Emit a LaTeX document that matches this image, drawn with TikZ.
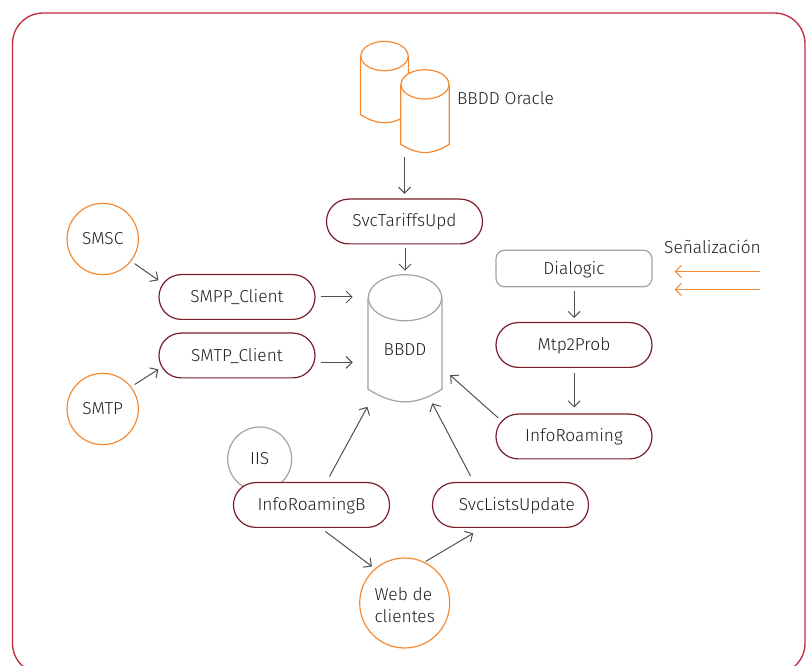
\documentclass[tikz,border=0pt]{standalone}
\usepackage{fontspec}
\setmainfont{Fira Sans Light}
\usetikzlibrary{arrows.meta}

\definecolor{framered}{HTML}{C22B3F}
\definecolor{pillred}{HTML}{7B1E2B}
\definecolor{dborange}{HTML}{F58A33}
\definecolor{softgrey}{HTML}{A3A3A3}
\definecolor{linegrey}{HTML}{505050}
\definecolor{textgrey}{HTML}{1F1F1F}

\tikzset{
	every node/.style={text=textgrey,font=\fontsize{13pt}{16.5pt}\selectfont,inner sep=0pt},
	capstext/.style={text height=9pt,text depth=0pt},
	pill/.style={shape=rectangle,capstext,draw=pillred,fill=white,line width=0.9pt,rounded corners=16.7pt,minimum width=117pt,minimum height=33.6pt},
	extcircle/.style={shape=circle,capstext,draw=dborange,line width=0.9pt,minimum size=53.5pt},
	dbbox/.style={shape=rectangle,minimum width=#1},
	link/.style={-{Straight Barb[length=4.5pt,width=9pt]},draw=linegrey,line width=0.75pt},
	siglink/.style={-{Straight Barb[length=4.5pt,width=9pt]},draw=dborange,line width=0.75pt}
}

% node name, colour, half width, cap height, foot height
\newcommand{\dbdraw}[5]{
	\draw[draw=#2,fill=white,line width=0.9pt] ([yshift=-#4]#1.north west) -- ([yshift=#5]#1.south west)
		to[out=-32,in=212,looseness=1.1] ([yshift=#5]#1.south east) -- ([yshift=-#4]#1.north east);
	\draw[draw=#2,fill=white,line width=0.9pt] ([yshift=-#4]#1.north) ellipse [x radius=#3,y radius=#4];
}

\begin{document}
\begin{tikzpicture}[x=0.75pt,y=-0.75pt]
	\useasboundingbox (0,0) rectangle (808,666);
	\begin{scope}
		\clip (0,0) rectangle (808,666);
		\draw[draw=framered,line width=1pt,rounded corners=23pt] (12.5,13) rectangle (805,674);
	\end{scope}

	\node[dbbox=35.5pt,minimum height=62pt] (oraclea) at (384.5,83) {};
	\node[dbbox=36pt,minimum height=63pt] (oracleb) at (425,112) {};
	\dbdraw{oraclea}{dborange}{17.75pt}{11pt}{7.5pt}
	\dbdraw{oracleb}{dborange}{18pt}{11pt}{7.5pt}
	\node (oracletext) at (505.5,98) {BBDD Oracle};

	\node[dbbox=55pt,minimum height=96pt] (bbdd) at (405,339) {};
	\dbdraw{bbdd}{softgrey}{27.5pt}{17.25pt}{10.5pt}
	\node[capstext] (bbddtext) at (405,350) {BBDD};

	\node[pill,text depth=2pt] (tariffs) at (404.5,221.5) {SvcTariffsUpd};
	\node[extcircle] (smsc) at (102.7,239) {SMSC};
	\node[extcircle] (smtp) at (102.7,409) {SMTP};
	\node[pill] (smppclient) at (237,297) {SMPP\_Client};
	\node[pill] (smtpclient) at (237,355.5) {SMTP\_Client};
	\node[shape=rectangle,capstext,draw=softgrey,line width=0.9pt,rounded corners=6.5pt,minimum width=117pt,minimum height=27.5pt] (dialogic) at (574,268.5) {Dialogic};
	\node[pill] (mtp) at (574,345) {Mtp2Prob};
	\node[pill,text depth=1pt] (inforoaming) at (574,436.5) {InfoRoaming};
	\node[shape=circle,capstext,draw=softgrey,line width=0.9pt,minimum size=48pt] (iis) at (259.7,459) {IIS};
	\node[pill] (inforoamingb) at (311.5,505) {InfoRoamingB};
	\node[pill] (svclists) at (510.5,505) {\hspace*{9.5pt}SvcListsUpdate};
	\node[extcircle,text height=,text depth=,minimum size=67.5pt,align=left] (web) at (404.7,603) {\rule{0pt}{12.5pt}Web de\\clientes};
	\node (signal) at (712.5,247) {Señalización};
	\coordinate (sigone) at (760,271.5);
	\coordinate (sigtwo) at (760,289.5);

	\path (tariffs.north |- oracleb.south) edge[link,shorten <=2pt,shorten >=3.5pt] (tariffs.north);
	\path (bbdd.north |- tariffs.south) edge[link,shorten <=3pt,shorten >=3pt] (bbdd.north);
	\path (smsc.-38) edge[link,shorten <=3pt] (smppclient.168);
	\path (smtp.38) edge[link,shorten <=3pt] (smtpclient.190);
	\path (smppclient.east) edge[link,shorten <=3.75pt,shorten >=11.5pt] (smppclient.east -| bbdd.west);
	\path (smtpclient.-5) edge[link,shorten <=3.75pt,shorten >=11.5pt] (smtpclient.-5 -| bbdd.west);
	\path (dialogic) edge[link,shorten <=2.5pt,shorten >=3pt] (mtp);
	\path (mtp) edge[link,shorten <=4pt,shorten >=4.5pt] (inforoaming);
	\path (inforoaming.165) edge[link,shorten <=-3pt,shorten >=8.3pt] (bbdd.-38);
	\path (inforoamingb.57) edge[link,shorten <=4.7pt,shorten >=3pt] (bbdd.-119);
	\path (svclists.148) edge[link,shorten <=5pt] (bbdd.-67);
	\path (inforoamingb.-68) edge[link,shorten <=4.3pt,shorten >=2.7pt] (web.131);
	\path (web.64) edge[link,shorten <=1pt,shorten >=7.7pt] (svclists.-141);
	\path (sigone) edge[siglink,shorten >=16.5pt] (sigone -| dialogic.east);
	\path (sigtwo) edge[siglink,shorten >=16.5pt] (sigtwo -| dialogic.east);
\end{tikzpicture}
\end{document}
